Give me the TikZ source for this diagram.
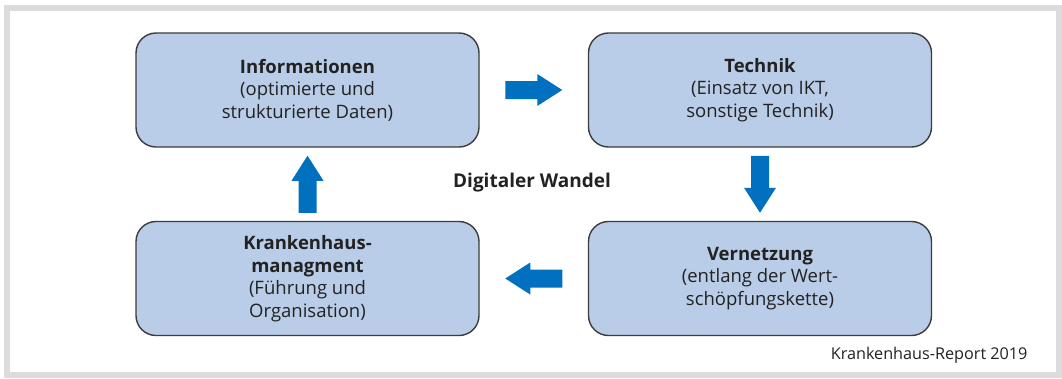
\documentclass[tikz,border=0pt]{standalone}
\usepackage{fontspec}
\setmainfont{Open Sans}
\usetikzlibrary{calc}
\definecolor{boxfill}{HTML}{B9CDE8}
\definecolor{boxline}{HTML}{3C3C3C}
\definecolor{arrowblue}{HTML}{0070BF}
\definecolor{framegrey}{HTML}{DCDCDC}
\definecolor{txt}{HTML}{222222}
\tikzset{
  stage/.style={draw=boxline, line width=1.4pt, fill=boxfill, rounded corners=20pt,
    minimum width=343pt, minimum height=114pt, align=center, text=txt,
    font=\fontsize{18.5}{22.5}\selectfont, inner sep=0pt},
  % block arrow pointing along +x, centred on the origin of the pic
  pics/blockarrow/.style={code={
    \fill[arrowblue] (-28.5,-9) -- (3.5,-9) -- (3.5,-16) -- (28.5,0)
      -- (3.5,16) -- (3.5,9) -- (-28.5,9) -- cycle;}}
}
\begin{document}
\begin{tikzpicture}[x=1pt,y=-1pt]
  % page and grey frame
  \useasboundingbox (0,0) rectangle (1062,378);
  \fill[white] (0,0) rectangle (1062,378);
  \draw[framegrey, line width=6pt] (7,8) rectangle (1059,375);

  % the four stages
  \node[stage] (info) at (307.5,90)  {\textbf{Informationen}\\(optimierte und\\strukturierte Daten)};
  \node[stage] (tech) at (760,90)    {\textbf{Technik}\\(Einsatz von IKT,\\sonstige Technik)};
  \node[stage] (netz) at (760,278.5) {\textbf{Vernetzung}\\(entlang der Wert-\\schöpfungskette)};
  \node[stage] (mgmt) at (307.5,278.5) {\textbf{Krankenhaus-}\\\textbf{managment}\\(Führung und\\Organisation)};

  % block arrows of the cycle (rotation is mirrored because the y axis points down)
  \pic at ($(info.east)!0.5!(tech.west)$) {blockarrow};
  \pic[rotate=-90] at ($(tech.south)!0.5!(netz.north)$) {blockarrow};
  \pic[rotate=180] at ($(netz.west)!0.5!(mgmt.east)$) {blockarrow};
  \pic[rotate=90] at ($(mgmt.north)!0.5!(info.south)$) {blockarrow};

  % centre caption and source
  \node[text=txt, font=\fontsize{19}{22}\selectfont\bfseries] (title) at (532,183) {Digitaler Wandel};
  \node[text=txt, font=\fontsize{16.2}{19}\selectfont, anchor=east] (src) at (1031,355) {Krankenhaus-Report 2019};
\end{tikzpicture}
\end{document}
